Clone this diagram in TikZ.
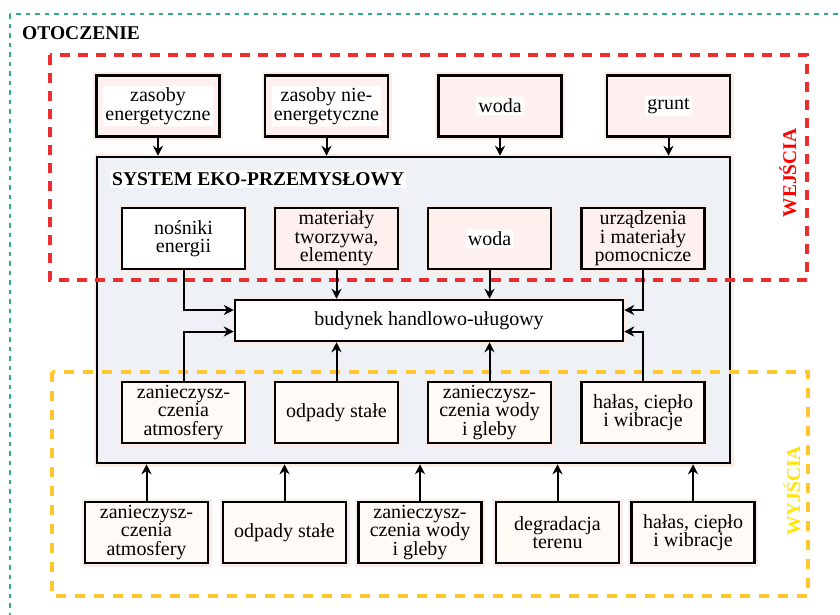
\documentclass[tikz,border=0pt]{standalone}
\usepackage{fontspec}
\setmainfont{Liberation Serif}
\usetikzlibrary{arrows.meta,calc}
\definecolor{boxpink}{HTML}{FDF0EE}
\definecolor{boxcream}{HTML}{FFFAF5}
\definecolor{sysfill}{HTML}{EEF1F6}
\definecolor{halo}{HTML}{FBECE8}
\definecolor{greenfr}{HTML}{2FAE7E}
\definecolor{redfr}{HTML}{EE2E2E}
\definecolor{yelfr}{HTML}{FFC62E}
\definecolor{wejcol}{HTML}{FF0000}
\definecolor{wyjcol}{HTML}{FFE600}
\tikzset{
  txt/.style={font=\fontsize{20}{18.5}\selectfont},
  boxbase/.style={draw=black, line width=2.5pt, minimum width=123pt, minimum height=61pt,
     inner sep=0pt, align=center, txt, preaction={draw=halo, line width=7pt}},
  pinkbox/.style={boxbase, fill=boxpink},
  whitebox/.style={boxbase, fill=white},
  creambox/.style={boxbase, fill=boxcream},
  wlabel/.style={fill=white, inner sep=2pt, align=center, txt},
  arr/.style={line width=2pt, -{Stealth[length=10pt,width=10pt]}},
  greenframe/.style={draw=greenfr, line width=1.6pt, dash pattern=on 4.5pt off 5pt},
  redframe/.style={draw=redfr, line width=3.5pt, dash pattern=on 10pt off 8pt},
  yelframe/.style={draw=yelfr, line width=3.5pt, dash pattern=on 10pt off 9pt},
  titletxt/.style={font=\fontsize{19.5}{20}\selectfont\bfseries}
}
\begin{document}
\begin{tikzpicture}[x=1pt,y=-1pt]
\useasboundingbox (0,0) rectangle (840,614);
\fill[white] (0,0) rectangle (840,614);
\begin{scope}
\clip (0,0) rectangle (840,614);
\draw[greenframe] (10,14) rectangle (852,626);
\end{scope}
\node[titletxt, anchor=west, inner sep=0pt] (otocz) at (22,33) {OTOCZENIE};

% input boxes
\node[pinkbox] (t1) at (158,106) {};
\node[wlabel] (t1l) at (t1) {zasoby\\energetyczne};
\node[pinkbox] (t2) at (326.5,106) {};
\node[wlabel] (t2l) at (t2) {zasoby nie-\\energetyczne};
\node[pinkbox] (t3) at (500,106) {};
\node[wlabel] (t3l) at (t3) {woda};
\node[pinkbox] (t4) at (668.5,106) {};
\node[wlabel] (t4l) at (t4) {grunt};

% system box
\node[draw=black, line width=2.5pt, fill=sysfill, minimum width=633pt, minimum height=306pt,
      inner sep=0pt, preaction={draw=halo, line width=7pt}] (sys) at (413.5,310) {};
\node[titletxt, anchor=west, fill=white, inner sep=2pt] (systitle) at (110,179) {SYSTEM EKO-PRZEMYSŁOWY};

% dashed frames
\draw[redframe] (50,55) rectangle (807,280);
\draw[yelframe] (52,372) rectangle (808,596);
\node[titletxt, text=wejcol, rotate=90, inner sep=0pt] (wej) at (788,173) {WEJŚCIA};
\node[titletxt, text=wyjcol, rotate=90, inner sep=0pt] (wyj) at (792,491) {WYJŚCIA};

% inner top boxes
\node[whitebox] (a) at (183.5,238.5) {nośniki\\energii};
\node[pinkbox] (b) at (336.5,238.5) {materiały\\tworzywa,\\elementy};
\node[pinkbox] (c) at (489.5,238.5) {};
\node[wlabel] (cl) at (c) {woda};
\node[pinkbox] (d) at (643,238.5) {urządzenia\\i materiały\\pomocnicze};

% centre box
\node[draw=black, line width=2.5pt, fill=white, minimum width=388pt, minimum height=41pt,
      inner sep=0pt, txt, preaction={draw=halo, line width=7pt}] (bud) at (429,320.5) {budynek handlowo-uługowy};

% inner bottom boxes
\node[creambox] (e) at (183.5,412.5) {zanieczysz-\\czenia\\atmosfery};
\node[creambox] (f) at (336.5,412.5) {odpady stałe};
\node[creambox] (g) at (489.5,412.5) {zanieczysz-\\czenia wody\\i gleby};
\node[creambox] (h) at (643,412.5) {hałas, ciepło\\i wibracje};

% outer bottom boxes
\node[creambox] (o1) at (146.5,532.5) {zanieczysz-\\czenia\\atmosfery};
\node[creambox] (o2) at (284.5,532.5) {odpady stałe};
\node[creambox] (o3) at (420,532.5) {zanieczysz-\\czenia wody\\i gleby};
\node[creambox] (o4) at (557.5,532.5) {degradacja\\terenu};
\node[creambox] (o5) at (693,532.5) {hałas, ciepło\\i wibracje};

% arrows: inputs into system
\foreach \n in {t1,t2,t3,t4}{
  \draw[arr] (\n.south) -- (\n.south |- sys.north);
}
% inner arrows
\draw[arr] (a.south) |- ([yshift=10.5pt]bud.west);
\draw[arr] (e.north) |- ([yshift=-11pt]bud.west);
\draw[arr] (d.south) |- ([yshift=10.5pt]bud.east);
\draw[arr] (h.north) |- ([yshift=-11pt]bud.east);
\draw[arr] (b.south) -- (b.south |- bud.north);
\draw[arr] (c.south) -- (c.south |- bud.north);
\draw[arr] (f.north) -- (f.north |- bud.south);
\draw[arr] (g.north) -- (g.north |- bud.south);
% outputs into system
\foreach \n in {o1,o2,o3,o4,o5}{
  \draw[arr] (\n.north) -- (\n.north |- sys.south);
}
\end{tikzpicture}
\end{document}
